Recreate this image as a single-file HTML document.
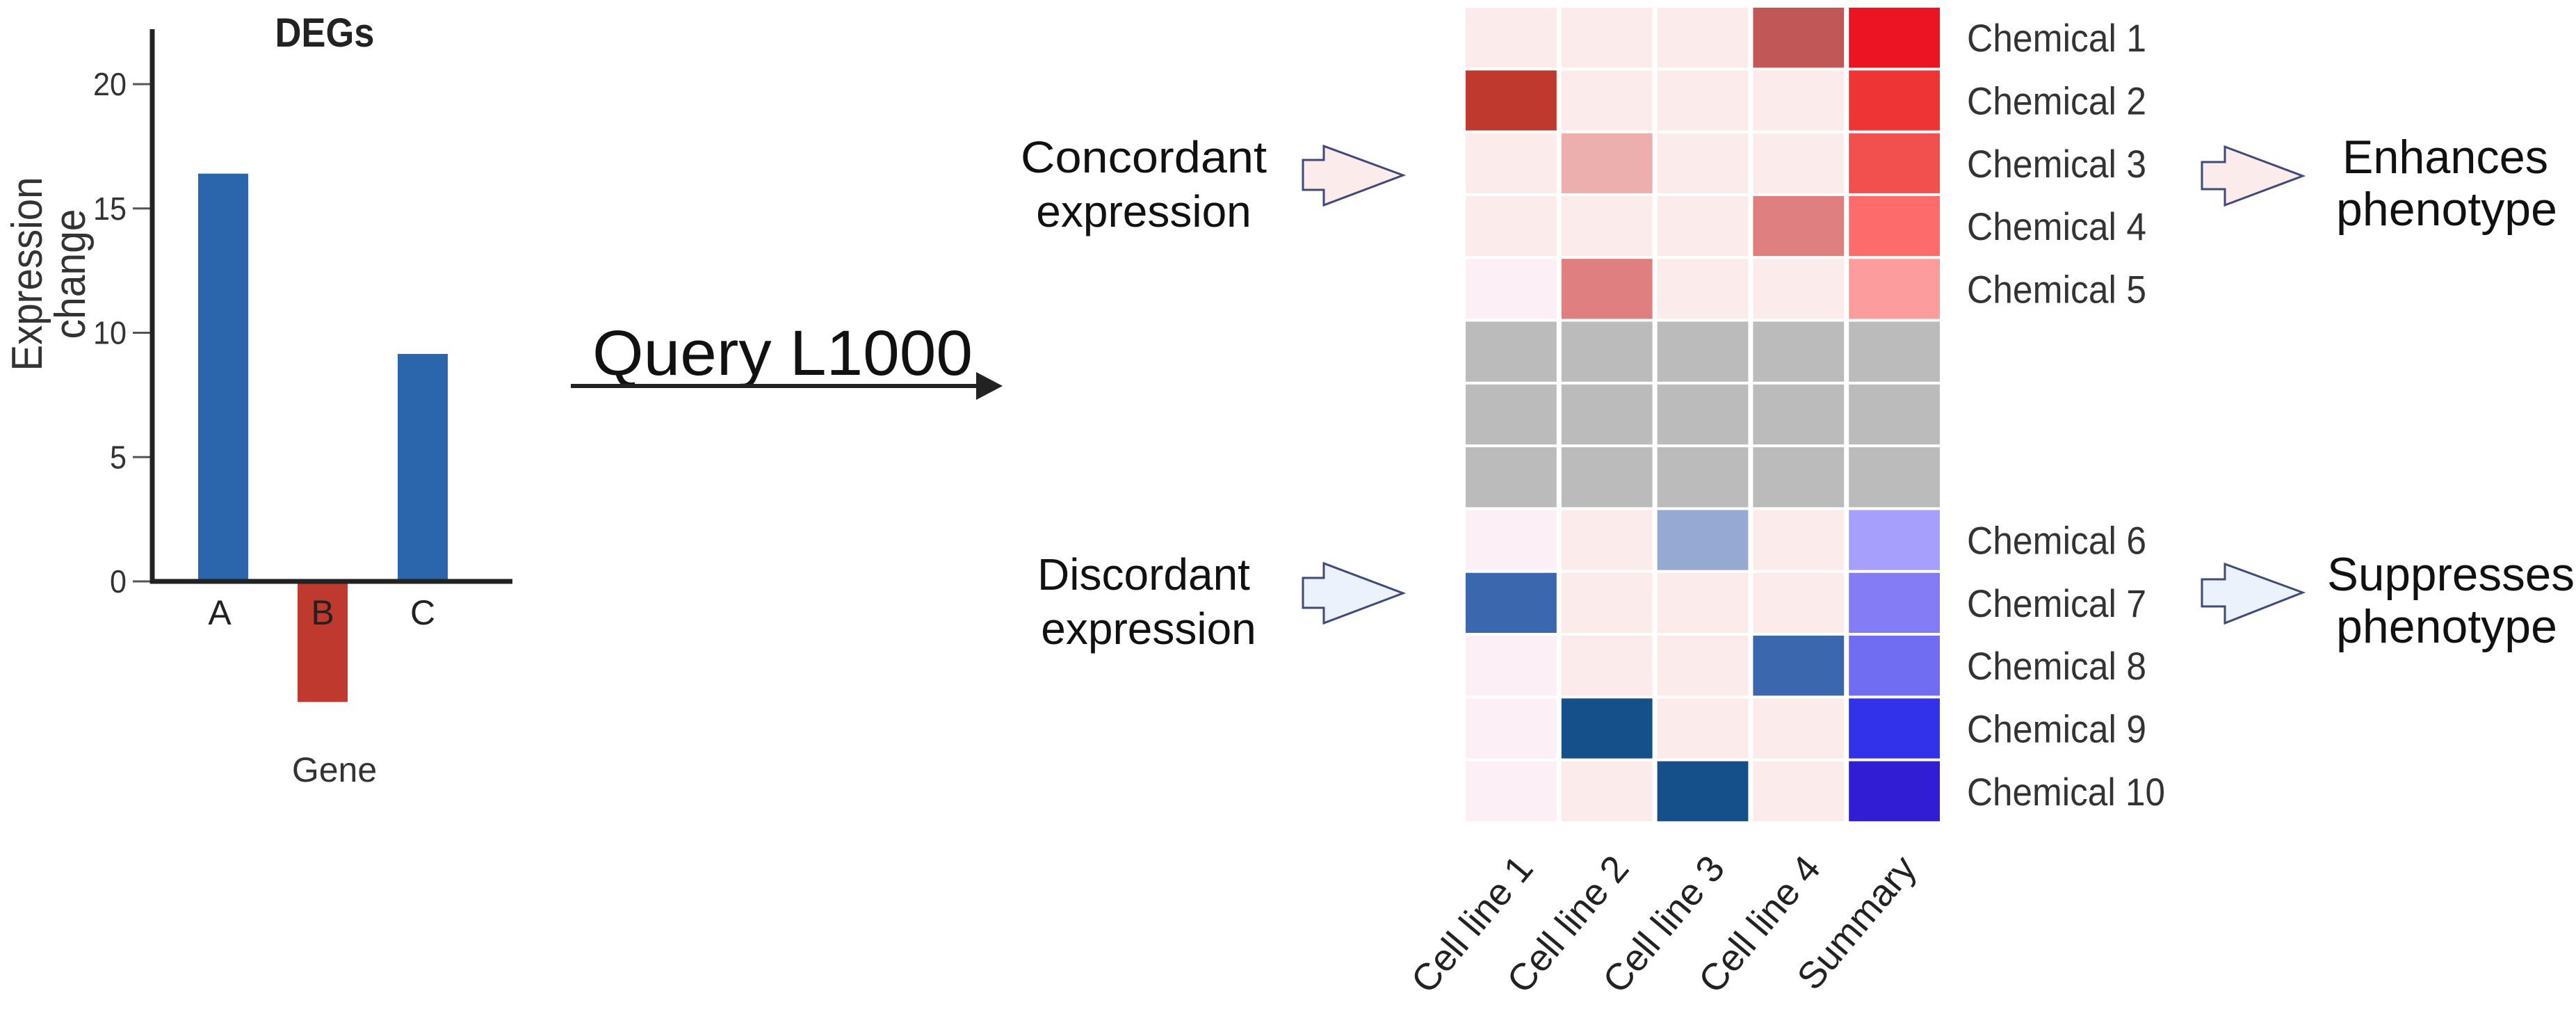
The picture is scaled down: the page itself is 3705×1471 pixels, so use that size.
<!DOCTYPE html>
<html><head><meta charset="utf-8"><style>
html,body{margin:0;padding:0;background:#fff;}
svg{display:block;}
text{font-family:"Liberation Sans",sans-serif;}
</style></head><body>
<svg id="fig" width="3705" height="1471" viewBox="0 0 3705 1471" xmlns="http://www.w3.org/2000/svg">
  <g id="bars"></g>
  <g id="query">
    <text x="852" y="539" font-size="92" fill="#111" textLength="547" lengthAdjust="spacingAndGlyphs">Query L1000</text>
    <line x1="821" y1="555" x2="1410" y2="555" stroke="#222" stroke-width="6"/>
    <polygon points="1404,535 1442,555 1404,575" fill="#222"/>
  </g>
  <g id="left-labels">
    <text x="1645" y="248" font-size="64" text-anchor="middle" fill="#111" textLength="354" lengthAdjust="spacingAndGlyphs">Concordant</text>
    <text x="1645" y="326" font-size="64" text-anchor="middle" fill="#111">expression</text>
    <text x="1645" y="848" font-size="64" text-anchor="middle" fill="#111">Discordant</text>
    <text x="1652" y="926" font-size="64" text-anchor="middle" fill="#111">expression</text>
    <polygon points="1874,230 1904,230 1904,210 2018,252 1904,295 1904,273 1874,273" fill="#fcebeb" stroke="#3f4a7a" stroke-width="3"/>
    <polygon points="1874,831 1904,831 1904,810 2018,853 1904,896 1904,874 1874,874" fill="#ecf2fb" stroke="#3f4a7a" stroke-width="3"/>
  </g>
  <g id="heat"></g>
  <g id="right-labels">
    <polygon points="3167,233 3200,233 3200,211 3312,253 3200,295 3200,272 3167,272" fill="#fcebeb" stroke="#3f4a7a" stroke-width="3"/>
    <polygon points="3167,833 3200,833 3200,811 3312,852 3200,896 3200,872 3167,872" fill="#ecf2fb" stroke="#3f4a7a" stroke-width="3"/>
    <text x="3517" y="249" font-size="68" text-anchor="middle" fill="#111" textLength="296" lengthAdjust="spacingAndGlyphs">Enhances</text>
    <text x="3519" y="324" font-size="68" text-anchor="middle" fill="#111" textLength="318" lengthAdjust="spacingAndGlyphs">phenotype</text>
    <text x="3525" y="849" font-size="68" text-anchor="middle" fill="#111" textLength="356" lengthAdjust="spacingAndGlyphs">Suppresses</text>
    <text x="3519" y="924" font-size="68" text-anchor="middle" fill="#111" textLength="318" lengthAdjust="spacingAndGlyphs">phenotype</text>
  </g>
</svg>
<script>
const NS = "http://www.w3.org/2000/svg";
// ---- bar chart data ----
const genes = ["A", "B", "C"];
const expressionValues = [16.4, -4.85, 9.15];
const yTicks = [0, 5, 10, 15, 20];
// ---- heatmap data ----
const columns = ["Cell line 1", "Cell line 2", "Cell line 3", "Cell line 4", "Summary"];
const rowLabels = ["Chemical 1","Chemical 2","Chemical 3","Chemical 4","Chemical 5","","","","Chemical 6","Chemical 7","Chemical 8","Chemical 9","Chemical 10"];
const cellLine1 = [0.05, 0.9, 0.05, 0.05, -0.02, null, null, null, -0.02, -0.8, -0.02, -0.02, -0.02];
const cellLine2 = [0.05, 0.05, 0.3, 0.05, 0.5, null, null, null, 0.05, 0.05, 0.05, -1, 0.05];
const cellLine3 = [0.05, 0.05, 0.05, 0.05, 0.05, null, null, null, -0.4, 0.05, 0.05, 0.05, -1];
const cellLine4 = [0.75, 0.05, 0.05, 0.5, 0.05, null, null, null, 0.05, 0.05, -0.8, 0.05, 0.05];
const summary = [1, 0.85, 0.75, 0.6, 0.4, null, null, null, -0.4, -0.55, -0.6, -0.85, -1];

function mk(tag, attrs, parent){ const e=document.createElementNS(NS,tag); for(const k in attrs) e.setAttribute(k,attrs[k]); parent.appendChild(e); return e; }

// bar chart axes
const axX0=219, axX1=737, y0px=836, pxPerUnit=(836-121)/20;
const ys = v => y0px - v*pxPerUnit;
const bars=document.getElementById('bars');
const barCenters=[321,464,608], barW=72;
const title=mk('text',{x:467,y:67,'font-size':58,'font-weight':'bold','text-anchor':'middle',fill:'#222',textLength:143,lengthAdjust:'spacingAndGlyphs'},bars);
title.textContent='DEGs';


expressionValues.forEach((v,i)=>{
  const top=Math.min(ys(v),ys(0)), h=Math.abs(ys(v)-ys(0));
  const r=mk('rect',{x:barCenters[i]-barW/2,y:top,width:barW,height:h,fill:v>=0?'#2b65ab':'#c0392f'},bars);
  
  
  const t=mk('text',{x:barCenters[i]-(i===0?5:0),y:898,'font-size':50,'text-anchor':'middle',fill:'#222'},bars);
  t.textContent=genes[i];
  
  
});
yTicks.forEach(v=>{
  const tk=mk('line',{x1:191,x2:axX0,y1:ys(v),y2:ys(v),stroke:'#555','stroke-width':3},bars);
  
  
  const s=String(v);
  const t=mk('text',{x:182,y:ys(v)+16,'font-size':46,'text-anchor':'end',fill:'#333',textLength:s.length*24,lengthAdjust:'spacingAndGlyphs'},bars);
  t.textContent=s;
  
  
});
const yax=mk('line',{x1:axX0,x2:axX0,y1:42,y2:y0px+3,stroke:'#222','stroke-width':7},bars);


const xax=mk('line',{x1:axX0-3,x2:axX1,y1:y0px,y2:y0px,stroke:'#222','stroke-width':7},bars);


const yl1=mk('text',{x:0,y:0,'font-size':62,'text-anchor':'middle',fill:'#333',transform:'translate(60,394) rotate(-90)',textLength:279,lengthAdjust:'spacingAndGlyphs'},bars);
yl1.textContent='Expression';


const yl2=mk('text',{x:0,y:0,'font-size':62,'text-anchor':'middle',fill:'#333',transform:'translate(122,394) rotate(-90)',textLength:187,lengthAdjust:'spacingAndGlyphs'},bars);
yl2.textContent='change';


const xl=mk('text',{x:481,y:1124,'font-size':50,'text-anchor':'middle',fill:'#333'},bars);
xl.textContent='Gene';



// heatmap colors
function hex(c){return [parseInt(c.slice(1,3),16),parseInt(c.slice(3,5),16),parseInt(c.slice(5,7),16)];}
function interp(anchors,v){
  anchors=anchors.slice().sort((a,b)=>a[0]-b[0]);
  if(v<=anchors[0][0]) return anchors[0][1];
  if(v>=anchors[anchors.length-1][0]) return anchors[anchors.length-1][1];
  for(let i=0;i<anchors.length-1;i++){const [a,ca]=anchors[i],[b,cb]=anchors[i+1];
    if(v>=a&&v<=b){const t=(v-a)/(b-a),A=hex(ca),B=hex(cb);return 'rgb('+A.map((x,k)=>Math.round(x+(B[k]-x)*t)).join(',')+')';}}
}
const lineScale=[[-1,'#16508a'],[-0.8,'#3a67ae'],[-0.4,'#96a9d3'],[-0.02,'#fcf0f6'],[0.05,'#fcebeb'],[0.3,'#edaeae'],[0.5,'#e07f7f'],[0.75,'#c25757'],[0.9,'#c0392f']];
const sumScale=[[-1,'#311dd4'],[-0.85,'#3232ea'],[-0.6,'#716df2'],[-0.55,'#837cf4'],[-0.4,'#a6a0fc'],[0.4,'#fc9c9c'],[0.6,'#fe6b6b'],[0.75,'#f24f4f'],[0.85,'#ee3434'],[1,'#ec1422']];
const heat=document.getElementById('heat');
const colData=[cellLine1,cellLine2,cellLine3,cellLine4,summary];
const hx0=2108, colPitch=137.8, gapX=7, hy0=11, rowPitch=90.3, gapY=4;
colData.forEach((col,c)=>{
  col.forEach((v,r)=>{
    const fill = v===null ? '#bbbbbb' : interp(c===4?sumScale:lineScale, v);
    const rc=mk('rect',{x:hx0+c*colPitch,y:hy0+r*rowPitch,width:colPitch-gapX,height:rowPitch-gapY,fill:fill},heat);
    
    
  });
  const cx=hx0+c*colPitch+(colPitch-gapX)/2+34;
  const t=mk('text',{x:0,y:0,'font-size':54,'text-anchor':'end',fill:'#222',transform:'translate('+cx+',1250) rotate(-50)'},heat);
  t.textContent=columns[c];
  
  
});
rowLabels.forEach((lab,r)=>{
  if(!lab) return;
  const t=mk('text',{x:2829,y:hy0+r*rowPitch+(rowPitch-gapY)/2+20,'font-size':56,fill:'#333',textLength:lab.length===11?285:258,lengthAdjust:'spacingAndGlyphs'},heat);
  t.textContent=lab;
  
  
});
</script>
</body></html>
